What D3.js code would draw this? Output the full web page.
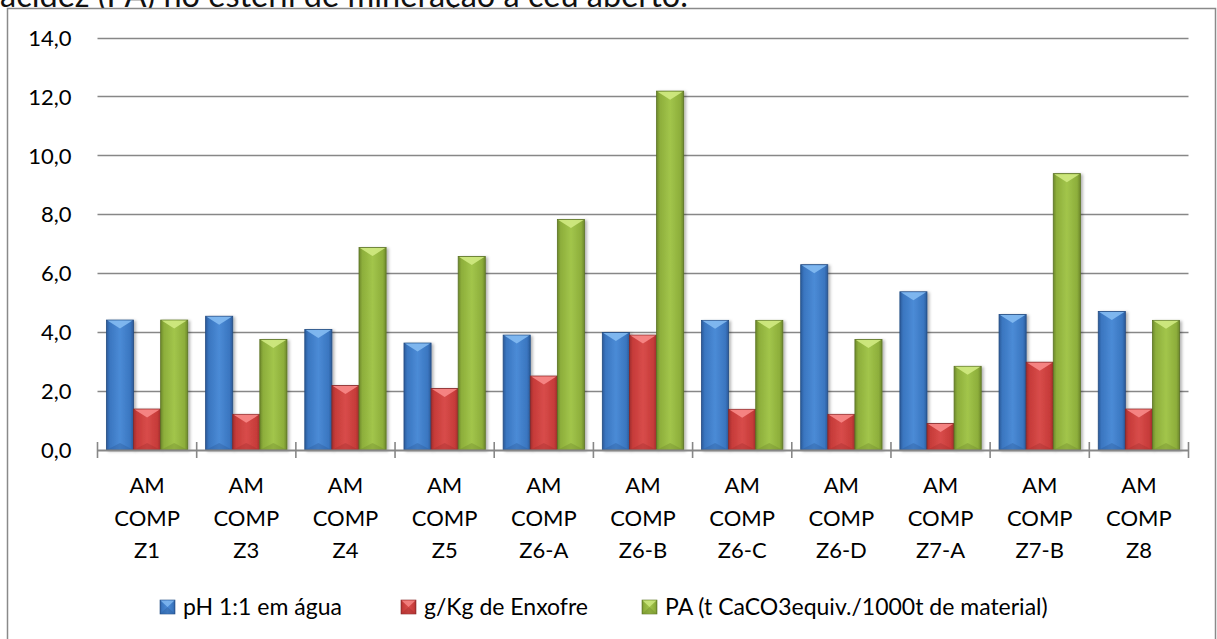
<!DOCTYPE html>
<html>
<head>
<meta charset="utf-8">
<script src="https://cdn.jsdelivr.net/npm/d3@7/dist/d3.min.js"></script>
<style>
    body { margin: 0; background: #fff; }
    svg { display: block; font-family: Lato, "Open Sans", sans-serif; }
</style>
</head>
<body>
<svg id="chart" width="1217" height="639"></svg>
<script>
// Data
var categories = ['AM COMP Z1', 'AM COMP Z3', 'AM COMP Z4', 'AM COMP Z5', 'AM COMP Z6-A', 'AM COMP Z6-B',
    'AM COMP Z6-C', 'AM COMP Z6-D', 'AM COMP Z7-A', 'AM COMP Z7-B', 'AM COMP Z8'];
var seriesNames = ['pH 1:1 em água', 'g/Kg de Enxofre', 'PA (t CaCO3equiv./1000t de material)'];
var phValues = [4.41, 4.54, 4.09, 3.63, 3.90, 3.99, 4.40, 6.29, 5.37, 4.60, 4.70];
var sulfurValues = [1.39, 1.21, 2.19, 2.09, 2.51, 3.90, 1.38, 1.21, 0.90, 2.98, 1.39];
var paValues = [4.41, 3.75, 6.87, 6.57, 7.82, 12.18, 4.40, 3.75, 2.84, 9.38, 4.40];
var yTicks = [0, 2, 4, 6, 8, 10, 12, 14];

var series = [phValues, sulfurValues, paValues];
var palette = [
    { dark: '#2b5a99', base: '#3a76c0', light: '#4b8bd6', top: '#84bbf2', stroke: '#244c82' },
    { dark: '#a02e2d', base: '#c63b39', light: '#d84c4a', top: '#f88a88', stroke: '#86292a' },
    { dark: '#6d882b', base: '#8dae3b', light: '#a2c54b', top: '#d0ea82', stroke: '#5c7425' }
];

var svg = d3.select('#chart');
var plot = { left: 97.5, right: 1188.5, top: 37.5, bottom: 450 };
var labelSize = 22;

// Text of the page above the chart, cut off by the crop
svg.append('text')
    .attr('x', 0)
    .attr('y', 6.5)
    .attr('font-size', 32.5)
    .attr('fill', '#111')
    .text('acidez (PA) no estéril de mineração a céu aberto.');

// Frame
svg.append('rect')
    .attr('x', 7.5).attr('y', 8.5)
    .attr('width', 1208).attr('height', 660)
    .attr('fill', '#fff')
    .attr('stroke', '#8a8a8a')
    .attr('stroke-width', 1.5);

var defs = svg.append('defs');
var shadow = defs.append('filter').attr('id', 'shadow')
    .attr('x', '-20%').attr('y', '-5%').attr('width', '150%').attr('height', '115%');
shadow.append('feDropShadow')
    .attr('dx', 2).attr('dy', 1).attr('stdDeviation', 1.6)
    .attr('flood-color', '#000').attr('flood-opacity', 0.3);

palette.forEach(function (p, i) {
    var g = defs.append('linearGradient').attr('id', 'grad' + i)
        .attr('x1', '0%').attr('x2', '100%').attr('y1', '0%').attr('y2', '0%');
    [[0, p.dark], [0.12, p.base], [0.5, p.light], [0.88, p.base], [1, p.dark]].forEach(function (s) {
        g.append('stop').attr('offset', s[0]).attr('stop-color', s[1]);
    });
});

// Scales
var y = d3.scaleLinear().domain([0, 14]).range([plot.bottom, plot.top]);
var x0 = d3.scaleBand().domain(categories).range([plot.left, plot.right]).padding(0);
var bw = x0.bandwidth();
var x1 = d3.scaleBand().domain(d3.range(series.length)).range([bw * 0.09, bw * 0.91]).padding(0);

// Gridlines
svg.append('g').selectAll('line')
    .data(yTicks.filter(function (t) { return t > 0; }))
    .enter().append('line')
    .attr('x1', plot.left).attr('x2', plot.right)
    .attr('y1', function (d) { return Math.round(y(d)) + 0.5; })
    .attr('y2', function (d) { return Math.round(y(d)) + 0.5; })
    .attr('stroke', '#878787')
    .attr('stroke-width', 1.6);

// Y axis labels
var yAxis = svg.append('g')
    .attr('transform', 'translate(' + (plot.left - 26) + ',0)')
    .call(d3.axisLeft(y).tickValues(yTicks).tickSize(0).tickPadding(0)
        .tickFormat(function (d) { return d3.format('.1f')(d).replace('.', ','); }));
yAxis.select('.domain').remove();
yAxis.selectAll('text').attr('font-size', labelSize).attr('fill', '#000')
    .attr('font-family', 'Lato, sans-serif').attr('dy', '0.35em');

// Bars
series.forEach(function (vals, si) {
    var p = palette[si];
    var w = x1.bandwidth();
    var g = svg.append('g').attr('class', 'series');
    var bars = g.selectAll('g.bar')
        .data(vals)
        .enter().append('g')
        .attr('class', 'bar')
        .attr('transform', function (d, i) { return 'translate(' + (x0(categories[i]) + x1(si)) + ',0)'; });
    bars.append('rect')
        .attr('x', 0)
        .attr('y', function (d) { return y(d); })
        .attr('width', w)
        .attr('height', function (d) { return y(0) - y(d); })
        .attr('fill', 'url(#grad' + si + ')')
        .attr('stroke', p.stroke)
        .attr('stroke-width', 0.8)
        .attr('filter', 'url(#shadow)');
    // top bevel
    bars.append('path')
        .attr('d', function (d) {
            var t = y(d);
            return 'M1,' + (t + 0.5) + 'L' + (w - 1) + ',' + (t + 0.5) + 'L' + (w / 2) + ',' + (t + 8.5) + 'Z';
        })
        .attr('fill', p.top)
        .attr('opacity', 0.9);
    // bottom bevel
    bars.append('path')
        .attr('d', function (d) {
            var b = y(0);
            return 'M1,' + (b - 0.5) + 'L' + (w - 1) + ',' + (b - 0.5) + 'L' + (w / 2) + ',' + (b - 7) + 'Z';
        })
        .attr('fill', p.dark)
        .attr('opacity', 0.35);
});

// X axis line and ticks
svg.append('line')
    .attr('x1', plot.left).attr('x2', plot.right)
    .attr('y1', plot.bottom + 0.5).attr('y2', plot.bottom + 0.5)
    .attr('stroke', '#878787').attr('stroke-width', 1.8);
var tickXs = categories.map(function (c) { return x0(c); }).concat([plot.right]);
svg.append('g').selectAll('line')
    .data(tickXs)
    .enter().append('line')
    .attr('x1', function (d) { return d; }).attr('x2', function (d) { return d; })
    .attr('y1', plot.bottom - 8).attr('y2', plot.bottom + 8)
    .attr('stroke', '#878787').attr('stroke-width', 1.6);

// Category labels, one word per line
var catLabels = svg.append('g').selectAll('text')
    .data(categories)
    .enter().append('text')
    .attr('text-anchor', 'middle')
    .attr('font-size', labelSize)
    .attr('fill', '#000')
    .attr('transform', function (d) { return 'translate(' + (x0(d) + bw / 2) + ',0)'; });
catLabels.each(function (d) {
    var t = d3.select(this);
    d.split(' ').forEach(function (part, k) {
        t.append('tspan').attr('x', 0).attr('y', 493 + k * 32.5).text(part);
    });
});

// Legend (equal pitch entries, as Excel lays them out)
var legendX = [160, 401, 642];
var legend = svg.append('g').selectAll('g')
    .data(seriesNames)
    .enter().append('g')
    .attr('transform', function (d, i) { return 'translate(' + legendX[i] + ',600)'; });
legend.append('rect')
    .attr('width', 15).attr('height', 14)
    .attr('fill', function (d, i) { return 'url(#grad' + i + ')'; })
    .attr('stroke', function (d, i) { return palette[i].stroke; })
    .attr('stroke-width', 0.6);
legend.append('path')
    .attr('d', 'M0.5,0.5L14.5,0.5L7.5,7Z')
    .attr('fill', function (d, i) { return palette[i].top; })
    .attr('opacity', 0.8);
legend.append('path')
    .attr('d', 'M0.5,13.5L14.5,13.5L7.5,7Z')
    .attr('fill', function (d, i) { return palette[i].dark; })
    .attr('opacity', 0.4);
legend.append('text')
    .attr('x', 23).attr('y', 15)
    .attr('font-size', 23)
    .attr('fill', '#000')
    .text(function (d) { return d; });
</script>
</body>
</html>
